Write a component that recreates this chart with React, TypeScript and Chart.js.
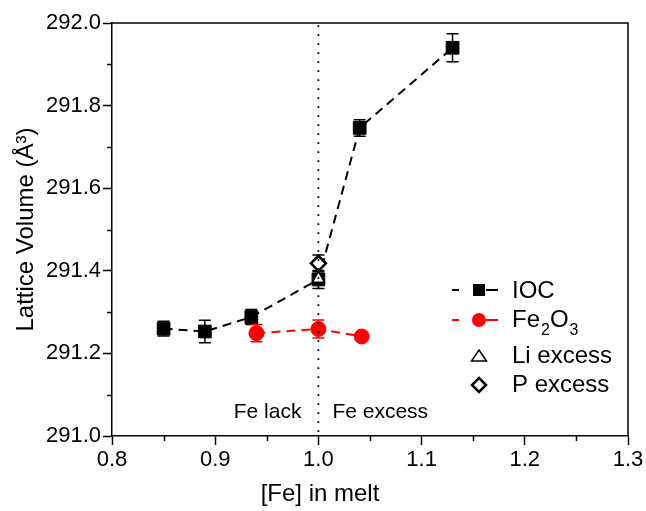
import React, { useEffect, useRef } from 'react';
import { Chart, registerables } from 'chart.js';

Chart.register(...registerables);

// ---- data ----
const iocX = [0.85, 0.89, 0.935, 1.0, 1.04, 1.13];
const iocY = [291.26, 291.253, 291.288, 291.379, 291.746, 291.94];
const iocErr = [0.018, 0.027, 0.018, 0.022, 0.02, 0.034];

const fe2o3X = [0.94, 1.0, 1.042];
const fe2o3Y = [291.249, 291.259, 291.241];
const fe2o3Err = [0.021, 0.022, 0.006];

const liX = [1.0];
const liY = [291.381];
const liErr = [0.012];

const pX = [1.0];
const pY = [291.418];
const pErr = [0.02];

const xMajorTicks = [0.8, 0.9, 1.0, 1.1, 1.2, 1.3];
const xMinorTicks = [0.85, 0.95, 1.05, 1.15, 1.25];
const yMajorTicks = [291.0, 291.2, 291.4, 291.6, 291.8, 292.0];
const yMinorTicks = [291.1, 291.3, 291.5, 291.7, 291.9];

const dividerX = 1.0;
const xTitle = '[Fe] in melt';
const yTitle = 'Lattice Volume (Å³)';

const FONT = '"Liberation Sans", Arial, sans-serif';

const toPts = (xs: number[], ys: number[]) => xs.map((x, i) => ({ x, y: ys[i] }));
const errsByDataset: number[][] = [iocErr, fe2o3Err, liErr, pErr];
const errColors = ['#000000', '#ff0000', '#000000', '#000000'];

const errorBarPlugin = {
  id: 'errorBars',
  beforeDatasetDraw(chart: any, args: any) {
    const i = args.index;
    const errs = errsByDataset[i];
    if (!errs) return;
    const ctx = chart.ctx;
    const xs = chart.scales.x;
    const ys = chart.scales.y;
    const ds = chart.data.datasets[i];
    ctx.save();
    ctx.strokeStyle = errColors[i];
    ctx.lineWidth = 1.5;
    ctx.setLineDash([]);
    ds.data.forEach((p: any, j: number) => {
      const px = xs.getPixelForValue(p.x);
      const t = ys.getPixelForValue(p.y + errs[j]);
      const b = ys.getPixelForValue(p.y - errs[j]);
      const cw = 6;
      ctx.beginPath();
      ctx.moveTo(px, t);
      ctx.lineTo(px, b);
      ctx.moveTo(px - cw, t);
      ctx.lineTo(px + cw, t);
      ctx.moveTo(px - cw, b);
      ctx.lineTo(px + cw, b);
      ctx.stroke();
    });
    ctx.restore();
  },
};

const decorPlugin = {
  id: 'decor',
  afterDatasetsDraw(chart: any) {
    const ctx = chart.ctx;
    const { top, bottom } = chart.chartArea;
    const xs = chart.scales.x;
    // dotted divider
    const dx = xs.getPixelForValue(dividerX);
    ctx.save();
    ctx.strokeStyle = '#000';
    ctx.lineWidth = 1.8;
    ctx.setLineDash([1.8, 7.2]);
    ctx.beginPath();
    ctx.moveTo(dx, bottom - 4);
    ctx.lineTo(dx, top);
    ctx.stroke();
    ctx.restore();

    // annotations
    ctx.save();
    ctx.fillStyle = '#000';
    ctx.font = `21px ${FONT}`;
    ctx.textBaseline = 'alphabetic';
    ctx.textAlign = 'right';
    ctx.fillText('Fe lack', dx - 17, bottom - 18);
    ctx.textAlign = 'left';
    ctx.fillText('Fe excess', dx + 14, bottom - 18);
    ctx.restore();
  },
  afterDraw(chart: any) {
    const ctx = chart.ctx;
    const { left, right, top, bottom } = chart.chartArea;
    const xs = chart.scales.x;
    const ys = chart.scales.y;
    ctx.save();
    ctx.strokeStyle = '#000';
    ctx.lineWidth = 1.5;
    // top & right frame
    ctx.beginPath();
    ctx.moveTo(left, top);
    ctx.lineTo(right, top);
    ctx.lineTo(right, bottom);
    ctx.stroke();
    // minor ticks
    ctx.beginPath();
    xMinorTicks.forEach((v) => {
      const px = Math.round(xs.getPixelForValue(v)) + 0.5;
      ctx.moveTo(px, bottom);
      ctx.lineTo(px, bottom + 5);
    });
    yMinorTicks.forEach((v) => {
      const py = Math.round(ys.getPixelForValue(v)) + 0.5;
      ctx.moveTo(left, py);
      ctx.lineTo(left - 5, py);
    });
    ctx.stroke();
    ctx.restore();

    // x title
    ctx.save();
    ctx.fillStyle = '#000';
    ctx.font = `24px ${FONT}`;
    ctx.textAlign = 'center';
    ctx.textBaseline = 'alphabetic';
    ctx.fillText(xTitle, chart.width / 2 - 3, 501);
    ctx.restore();

    // legend
    const lx = right - 176;
    const tx = right - 116;
    const rows = [top + 267, top + 297, top + 333, top + 362];
    ctx.save();
    ctx.fillStyle = '#000';
    ctx.font = `24px ${FONT}`;
    ctx.textBaseline = 'middle';
    ctx.textAlign = 'left';
    // IOC
    ctx.strokeStyle = '#000';
    ctx.lineWidth = 2;
    ctx.beginPath();
    ctx.moveTo(lx, rows[0]);
    ctx.lineTo(lx + 7, rows[0]);
    ctx.moveTo(lx + 34, rows[0]);
    ctx.lineTo(lx + 46, rows[0]);
    ctx.stroke();
    ctx.fillRect(lx + 21, rows[0] - 6, 12, 12);
    ctx.fillText('IOC', tx, rows[0] + 1);
    // Fe2O3
    ctx.strokeStyle = '#ff0000';
    ctx.fillStyle = '#ff0000';
    ctx.beginPath();
    ctx.moveTo(lx, rows[1]);
    ctx.lineTo(lx + 7, rows[1]);
    ctx.moveTo(lx + 34, rows[1]);
    ctx.lineTo(lx + 46, rows[1]);
    ctx.stroke();
    ctx.beginPath();
    ctx.arc(lx + 27, rows[1], 7, 0, Math.PI * 2);
    ctx.fill();
    ctx.fillStyle = '#000';
    let cx = tx;
    ctx.fillText('Fe', cx, rows[1]);
    cx += ctx.measureText('Fe').width + 1;
    ctx.font = `16px ${FONT}`;
    ctx.fillText('2', cx, rows[1] + 11);
    cx += ctx.measureText('2').width;
    ctx.font = `24px ${FONT}`;
    ctx.fillText('O', cx, rows[1]);
    cx += ctx.measureText('O').width + 1;
    ctx.font = `16px ${FONT}`;
    ctx.fillText('3', cx, rows[1] + 11);
    ctx.font = `24px ${FONT}`;
    // Li excess triangle
    ctx.strokeStyle = '#000';
    ctx.lineWidth = 1.5;
    const trx = lx + 27;
    const tr = rows[2];
    ctx.beginPath();
    ctx.moveTo(trx, tr - 6);
    ctx.lineTo(trx + 7.5, tr + 5);
    ctx.lineTo(trx - 7.5, tr + 5);
    ctx.closePath();
    ctx.stroke();
    ctx.fillText('Li excess', tx, rows[2]);
    // P excess diamond
    ctx.lineWidth = 2.5;
    const dr = rows[3];
    ctx.beginPath();
    ctx.moveTo(trx, dr - 7);
    ctx.lineTo(trx + 7, dr);
    ctx.lineTo(trx, dr + 7);
    ctx.lineTo(trx - 7, dr);
    ctx.closePath();
    ctx.stroke();
    ctx.fillText('P excess', tx, rows[3]);
    ctx.restore();
  },
};

export default function App() {
  const ref = useRef<HTMLCanvasElement | null>(null);
  useEffect(() => {
    if (!ref.current) return;
    const chart = new Chart(ref.current, {
      type: 'scatter',
      data: {
        datasets: [
          {
            label: 'IOC',
            data: toPts(iocX, iocY),
            showLine: true,
            borderColor: '#000',
            borderWidth: 2,
            borderDash: [9, 6],
            pointStyle: 'rect',
            pointRadius: 9,
            pointBackgroundColor: '#000',
            pointBorderColor: '#000',
            pointBorderWidth: 1,
            order: 4,
          },
          {
            label: 'Fe2O3',
            data: toPts(fe2o3X, fe2o3Y),
            showLine: true,
            borderColor: '#ff0000',
            borderWidth: 2,
            borderDash: [9, 6],
            pointStyle: 'circle',
            pointRadius: 7.5,
            pointBackgroundColor: '#ff0000',
            pointBorderColor: '#ff0000',
            pointBorderWidth: 1,
            order: 3,
          },
          {
            label: 'Li excess',
            data: toPts(liX, liY),
            showLine: false,
            pointStyle: 'triangle',
            pointRadius: 7,
            pointBackgroundColor: '#fff',
            pointBorderColor: '#000',
            pointBorderWidth: 1.5,
            order: 2,
          },
          {
            label: 'P excess',
            data: toPts(pX, pY),
            showLine: false,
            pointStyle: 'rectRot',
            pointRadius: 7.5,
            pointBackgroundColor: '#fff',
            pointBorderColor: '#000',
            pointBorderWidth: 2.5,
            order: 1,
          },
        ],
      },
      options: {
        animation: false,
        responsive: false,
        events: [],
        layout: { padding: { top: 23, right: 18, left: 0, bottom: 0 } },
        plugins: { legend: { display: false }, tooltip: { enabled: false } },
        scales: {
          x: {
            type: 'linear',
            min: 0.8,
            max: 1.3,
            afterBuildTicks: (s: any) => {
              s.ticks = xMajorTicks.map((v) => ({ value: v }));
            },
            afterFit: (s: any) => {
              s.height = 75;
            },
            ticks: {
              color: '#000',
              font: { family: FONT, size: 22 },
              padding: 2,
              maxRotation: 0,
              autoSkip: false,
              callback: (v: any) => Number(v).toFixed(1),
            },
            grid: {
              display: true,
              drawOnChartArea: false,
              drawTicks: true,
              tickLength: 9,
              tickWidth: 1.5,
              tickColor: '#000',
            },
            border: { display: true, color: '#000', width: 1.5 },
          },
          y: {
            type: 'linear',
            min: 291.0,
            max: 292.0,
            afterBuildTicks: (s: any) => {
              s.ticks = yMajorTicks.map((v) => ({ value: v }));
            },
            afterFit: (s: any) => {
              s.width = 112;
            },
            ticks: {
              color: '#000',
              font: { family: FONT, size: 22 },
              padding: 2,
              autoSkip: false,
              callback: (v: any) => Number(v).toFixed(1),
            },
            grid: {
              display: true,
              drawOnChartArea: false,
              drawTicks: true,
              tickLength: 9,
              tickWidth: 1.5,
              tickColor: '#000',
            },
            border: { display: true, color: '#000', width: 1.5 },
            title: {
              display: true,
              text: yTitle,
              color: '#000',
              font: { family: FONT, size: 24 },
              padding: { top: 12, bottom: 0 },
            },
          },
        },
      },
      plugins: [errorBarPlugin, decorPlugin],
    } as any);
    return () => chart.destroy();
  }, []);
  return (
    <div style={{ position: 'absolute', left: 0, top: 0, width: 646, height: 511, background: '#fff' }}>
      <canvas ref={ref} width={646} height={511} style={{ display: 'block' }} />
    </div>
  );
}
